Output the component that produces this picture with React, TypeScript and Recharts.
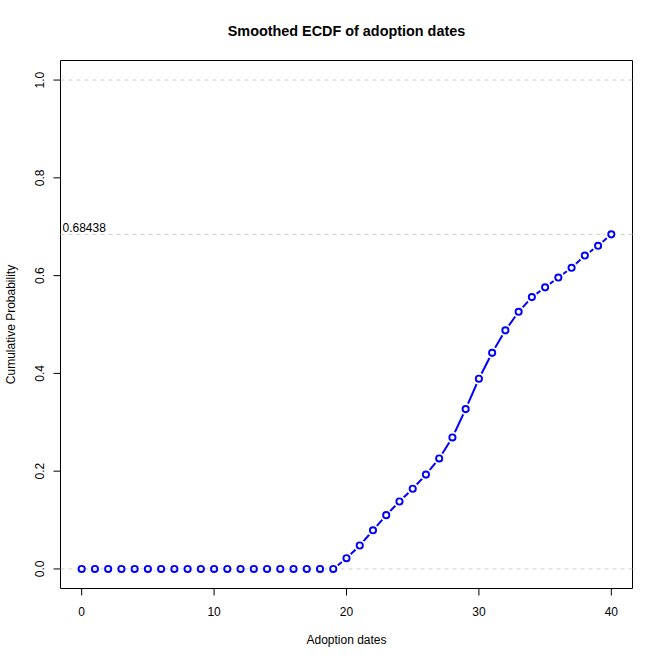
import React from 'react'
import { Line, LineChart, ReferenceArea, ReferenceLine, XAxis, YAxis } from 'recharts'

const adoptionDates = [
  0, 1, 2, 3, 4, 5, 6, 7, 8, 9, 10, 11, 12, 13, 14, 15, 16, 17, 18, 19, 20,
  21, 22, 23, 24, 25, 26, 27, 28, 29, 30, 31, 32, 33, 34, 35, 36, 37, 38, 39, 40,
]
const cumProb = [
  0, 0, 0, 0, 0, 0, 0, 0, 0, 0, 0, 0, 0, 0, 0, 0, 0, 0, 0, 0,
  0.022, 0.048, 0.079, 0.11, 0.138, 0.164, 0.193, 0.226, 0.269, 0.327,
  0.389, 0.442, 0.488, 0.526, 0.556, 0.576, 0.596, 0.616, 0.641, 0.661, 0.68438,
]
const xTicks = [0, 10, 20, 30, 40]
const yTicks = [0, 0.2, 0.4, 0.6, 0.8, 1.0]
const guideLevels = [0, 1]
const finalProb = 0.68438

const BLUE = '#0000ff'
const GUIDE = '#cccccc'
const FONT = '"Liberation Sans", Arial, Helvetica, sans-serif'

// R's type="b": line segments only where the curve actually moves, broken at each point
const data = adoptionDates.map((d, i) => {
  const moving = cumProb[i] > 0 || (cumProb[i + 1] ?? 0) > 0
  return { date: d, prob: cumProb[i], lineProb: moving ? cumProb[i] : null }
})

const XTick = (p: any) => (
  <text x={p.x} y={611.7} dy="0.35em" textAnchor="middle" fontSize={12} fill="#000">
    {p.payload.value}
  </text>
)

const YTick = (p: any) => (
  <text
    x={39.5} y={p.y} dy="0.35em" textAnchor="middle" fontSize={12} fill="#000"
    transform={`rotate(-90, 39.5, ${p.y})`}
  >
    {Number(p.payload.value).toFixed(1)}
  </text>
)

const PointDot = (p: any) => {
  if (p.cx == null || p.cy == null) return null
  return (
    <g key={p.index}>
      {p.payload.lineProb != null && <circle cx={p.cx} cy={p.cy} r={6} fill="#fff" />}
      <circle cx={p.cx} cy={p.cy} r={3.1} fill="none" stroke={BLUE} strokeWidth={1.9} />
    </g>
  )
}

export default function App() {
  return (
    <div style={{ position: 'absolute', left: 0, top: 0, width: 664, height: 664, background: '#fff', fontFamily: FONT }}>
      <LineChart width={664} height={664} data={data} margin={{ top: 60.5, right: 31.5, bottom: 0, left: 0 }}>
        <XAxis
          dataKey="date" type="number" domain={[-1.6, 41.6]} ticks={xTicks}
          axisLine={false} tickLine={{ stroke: '#000' }} tickSize={7} height={75.5}
          tick={<XTick />} allowDataOverflow
        />
        <YAxis
          type="number" domain={[-0.04, 1.04]} ticks={yTicks}
          axisLine={false} tickLine={{ stroke: '#000' }} tickSize={7} width={60.5}
          tick={<YTick />} allowDataOverflow
        />
        {guideLevels.map((v) => (
          <ReferenceLine key={v} y={v} stroke={GUIDE} strokeDasharray="4 4" />
        ))}
        <ReferenceLine
          y={finalProb} stroke={GUIDE} strokeDasharray="4 4"
          label={{ value: String(finalProb), position: 'insideBottomLeft', offset: 2, fontSize: 12, fill: '#000' }}
        />
        <ReferenceArea x1={-1.6} x2={41.6} y1={-0.04} y2={1.04} fill="none" stroke="#000" strokeWidth={1} fillOpacity={0} />
        <Line dataKey="lineProb" stroke={BLUE} strokeWidth={2} dot={false} isAnimationActive={false} connectNulls={false} />
        <Line dataKey="prob" stroke="none" dot={<PointDot />} activeDot={false} isAnimationActive={false} />
      </LineChart>
      <svg width={664} height={664} style={{ position: 'absolute', left: 0, top: 0, pointerEvents: 'none' }}>
        <text x={346.5} y={30.7} dy="0.35em" textAnchor="middle" fontSize={14.4} fontWeight="bold" fill="#000" fontFamily={FONT}>
          Smoothed ECDF of adoption dates
        </text>
        <text x={346.5} y={640} dy="0.35em" textAnchor="middle" fontSize={12} fill="#000" fontFamily={FONT}>
          Adoption dates
        </text>
        <text
          x={11} y={324.5} dy="0.35em" textAnchor="middle" fontSize={12} fill="#000" fontFamily={FONT}
          transform="rotate(-90, 11, 324.5)"
        >
          Cumulative Probability
        </text>
      </svg>
    </div>
  )
}
